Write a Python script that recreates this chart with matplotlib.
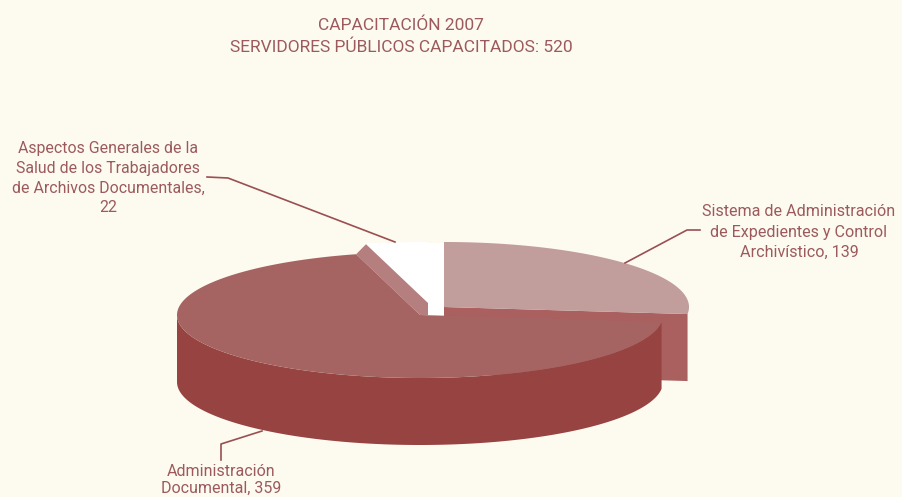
import numpy as np
import matplotlib.pyplot as plt

plt.rcParams['font.family'] = ['Roboto', 'DejaVu Sans']

# datos de la grafica
titulo = ['CAPACITACIÓN 2007', 'SERVIDORES PÚBLICOS CAPACITADOS: 520']
valores = [139, 359, 22]
etiqueta_sistema = ['Sistema de Administración', 'de Expedientes y Control', 'Archivístico, 139']
etiqueta_admin = ['Administración', 'Documental, 359']
etiqueta_salud = ['Aspectos Generales de la', 'Salud de los Trabajadores',
                  'de Archivos Documentales,', '22']

FONDO = '#fdfaf0'
TEXTO = '#9c5a5c'
ROSA = '#c19d9b'
ROSA_PARED = '#a9605f'
TOPE = '#a56462'
PARED = '#964341'
MALVA = '#b47f7e'
LINEA = '#9a4f50'

RX, RY, ALTO = 243, 63, 67


def arco(cx, cy, a1, a2, rx=RX, ry=RY):
    t = np.radians(np.linspace(a1, a2, 200))
    return cx + rx * np.cos(t), cy - ry * np.sin(t)


def renglones(ax, x, ys, lineas, size):
    # cada renglon por separado para controlar el interlineado
    for y, linea in zip(ys, lineas):
        ax.text(x, y, linea, ha='center', va='center', color=TEXTO, fontsize=size)


fig = plt.figure(figsize=(9.03, 4.97), dpi=100, facecolor=FONDO)
ax = fig.add_axes([0, 0, 1, 1])
ax.set_xlim(0, 903)
ax.set_ylim(497, 0)
ax.axis('off')

# angulos de cada rebanada, en sentido horario desde arriba
grados = np.array(valores) / sum(valores) * 360
a0 = 90
a1 = a0 - grados[0]
a2 = a1 - grados[1]
a3 = a2 - grados[2]

# rebanada rosa, separada hacia la derecha
cx, cy = 444, 307
xa, ya = arco(cx, cy, a0, a1, rx=245, ry=65)
ax.fill([cx, xa[-1], xa[-1], cx], [cy, ya[-1], ya[-1] + ALTO, cy + ALTO],
        color=ROSA_PARED, lw=0, zorder=1)
ax.fill(np.r_[cx, xa], np.r_[cy, ya], color=ROSA, lw=0, zorder=2)

# rebanada blanca, separada hacia arriba
cx, cy = 427, 305
xb, yb = arco(cx, cy, a2, a3)
ax.fill(np.r_[cx, xb], np.r_[cy, yb], color='white', lw=0, zorder=1)
ax.fill([366, 428, 444, 444], [243, 305, 305, 243], color='white', lw=0, zorder=1)
ax.fill([428, 444, 444, 428], [305, 305, 316, 316], color='white', lw=0, zorder=1)

# rebanada grande
cx, cy = 420, 315
xc, yc = arco(cx, cy, a1, a2)
# pared interior que se ve junto a la rebanada blanca
xi, yi = xc[-1], yc[-1]
ax.fill([xi, 366, 428, 428, cx], [yi, yi - 10, 303, 315, cy],
        color=MALVA, lw=0, zorder=3)
# pared exterior
xp, yp = arco(cx, cy, a1, -180)
ax.fill(np.r_[xp, xp[::-1]], np.r_[yp, yp[::-1] + ALTO],
        color=PARED, lw=0, zorder=4)
ax.fill(np.r_[cx, xc], np.r_[cy, yc], color=TOPE, lw=0, zorder=5)

# lineas guia
ax.plot([625, 687, 700], [263, 230, 230], color=LINEA, lw=1.2, zorder=6)
ax.plot([262, 221, 221], [431, 444, 460], color=LINEA, lw=1.2, zorder=6)
ax.plot([207, 228, 395], [177, 178, 242], color=LINEA, lw=1.2, zorder=6)

# textos
renglones(ax, 401, [25, 47], titulo, 12.5)
renglones(ax, 799, [212, 232, 252], etiqueta_sistema, 11.6)
renglones(ax, 221, [471, 488], etiqueta_admin, 11.5)
renglones(ax, 108, [149, 168, 188, 207], etiqueta_salud, 11.4)

fig.savefig('out.png', dpi=100, facecolor=FONDO)
